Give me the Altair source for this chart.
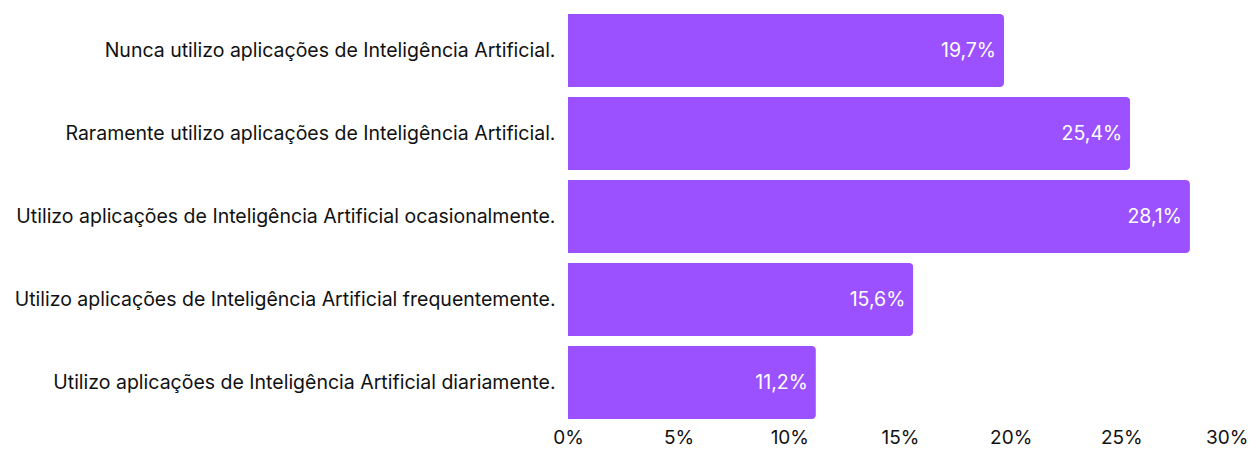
import altair as alt
import pandas as pd

categories = [
    "Nunca utilizo aplicações de Inteligência Artificial.",
    "Raramente utilizo aplicações de Inteligência Artificial.",
    "Utilizo aplicações de Inteligência Artificial ocasionalmente.",
    "Utilizo aplicações de Inteligência Artificial frequentemente.",
    "Utilizo aplicações de Inteligência Artificial diariamente.",
]
values = [19.7, 25.4, 28.1, 15.6, 11.2]
x_ticks = [0, 5, 10, 15, 20, 25, 30]

df = pd.DataFrame({
    "cat": categories,
    "val": values,
    "label": [f"{v:.1f}".replace(".", ",") + "%" for v in values],
})

FONT = "Inter"
COLOR = "#9B51FF"

x = alt.X("val:Q", scale=alt.Scale(domain=[0, 30], nice=False), title=None,
          axis=alt.Axis(values=x_ticks, labelExpr="datum.value + '%'", grid=False,
                        domain=False, ticks=False, labelFontSize=19, labelFont=FONT,
                        labelColor="#111111", labelPadding=4, labelFlush=False,
                        labelAlign={"condition": {"test": "datum.value == 30", "value": "right"},
                                    "value": "center"},
                        labelOffset={"condition": {"test": "datum.value == 30", "value": 16},
                                     "value": 0}))
y = alt.Y("cat:N", sort=categories, title=None,
          scale=alt.Scale(paddingInner=0.12, paddingOuter=0.06),
          axis=alt.Axis(domain=False, ticks=False, labelFontSize=19.5, labelFont=FONT,
                        labelColor="#111111", labelPadding=13, labelLimit=700))

bars = alt.Chart(df).mark_bar(color=COLOR, cornerRadiusEnd=4).encode(x=x, y=y)
text = alt.Chart(df).mark_text(align="right", dx=-8, color="white", fontSize=19.5,
                               font=FONT).encode(x="val:Q", y=alt.Y("cat:N", sort=categories), text="label:N")

chart = (bars + text).properties(
    width=664, height=415,
    autosize=alt.AutoSizeParams(type="none"),
    padding={"left": 560, "top": 1, "right": 16, "bottom": 25},
).configure_view(stroke=None)

chart.save("out.html", embed_options={"renderer": "svg", "actions": False})
